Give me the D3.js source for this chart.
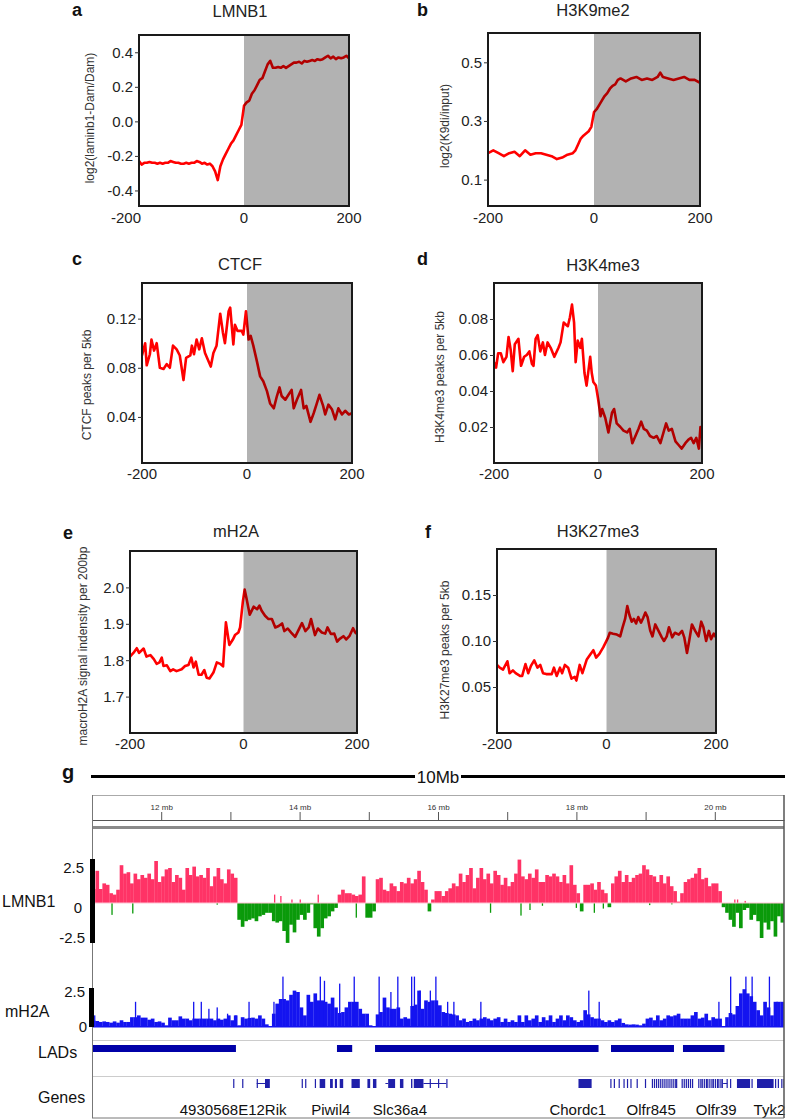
<!DOCTYPE html>
<html><head><meta charset="utf-8">
<script src="https://cdn.jsdelivr.net/npm/d3@7"></script>
<style>body{margin:0;background:#fff}svg{display:block;font-family:"Liberation Sans",Arial,sans-serif}</style>
</head><body>
<svg id="chart" width="787" height="1120"></svg>
<script>
// ---------------- DATA ----------------
const xTickLabels = [-200, 0, 200];

const lmnb1X = [-200,-195,-190,-185,-180,-175,-170,-165,-160,-155,-150,-145,-140,-135,-130,-125,-120,-115,-110,-105,-100,-95,-90,-85,-80,-75,-70,-65,-60,-55,-50,-45,-40,-35,-30,-25,-20,-15,-10,-5,0,5,10,15,20,25,30,35,40,45,50,55,60,65,70,75,80,85,90,95,100,105,110,115,120,125,130,135,140,145,150,155,160,165,170,175,180,185,190,195,200];
const lmnb1Y = [-0.23,-0.25,-0.24,-0.24,-0.235,-0.24,-0.24,-0.245,-0.24,-0.245,-0.24,-0.24,-0.23,-0.235,-0.24,-0.24,-0.245,-0.245,-0.24,-0.245,-0.24,-0.24,-0.23,-0.235,-0.245,-0.24,-0.25,-0.245,-0.26,-0.29,-0.34,-0.26,-0.22,-0.19,-0.16,-0.13,-0.11,-0.08,-0.05,-0.02,0.09,0.11,0.12,0.16,0.18,0.21,0.24,0.25,0.29,0.33,0.35,0.31,0.31,0.315,0.31,0.32,0.31,0.32,0.33,0.34,0.34,0.345,0.335,0.35,0.345,0.35,0.355,0.35,0.36,0.355,0.36,0.37,0.38,0.365,0.375,0.36,0.37,0.365,0.37,0.38,0.365];

const k9X = [-200,-190,-180,-170,-160,-150,-140,-130,-120,-110,-100,-90,-80,-70,-60,-50,-40,-35,-30,-25,-20,-10,-5,0,5,10,15,20,25,30,35,40,45,50,55,60,70,80,90,100,110,120,125,130,140,150,160,170,180,190,200];
const k9Y = [0.19,0.2,0.19,0.18,0.19,0.195,0.18,0.2,0.185,0.19,0.19,0.185,0.18,0.17,0.175,0.185,0.19,0.2,0.22,0.24,0.25,0.265,0.28,0.33,0.34,0.355,0.37,0.385,0.395,0.41,0.42,0.425,0.44,0.445,0.44,0.435,0.445,0.45,0.44,0.445,0.44,0.45,0.465,0.45,0.445,0.44,0.445,0.45,0.44,0.44,0.43];

const ctcfX = [-200,-194,-191,-185,-182,-177,-172,-166,-159,-153,-147,-141,-134,-128,-121,-116,-108,-105,-101,-96,-91,-86,-80,-69,-64,-58,-51,-46,-42,-35,-32,-26,-23,-18,-10,-7,-2,3,7,12,19,25,31,38,44,51,57,62,66,73,79,85,89,95,103,108,113,121,127,133,138,145,149,155,162,168,174,181,187,194,200];
const ctcfY = [0.09,0.10,0.082,0.091,0.103,0.094,0.10,0.08,0.079,0.083,0.08,0.098,0.095,0.09,0.07,0.088,0.09,0.098,0.091,0.103,0.095,0.104,0.092,0.081,0.092,0.098,0.124,0.109,0.10,0.126,0.129,0.099,0.115,0.11,0.11,0.107,0.126,0.103,0.106,0.098,0.085,0.073,0.069,0.061,0.051,0.047,0.057,0.064,0.057,0.054,0.058,0.062,0.047,0.054,0.062,0.047,0.049,0.036,0.043,0.051,0.058,0.049,0.042,0.05,0.046,0.038,0.047,0.042,0.045,0.042,0.043];

const k4X = [-200,-196,-192,-187,-182,-176,-172,-168,-164,-160,-153,-148,-142,-137,-132,-127,-124,-120,-116,-111,-106,-102,-97,-91,-84,-76,-72,-66,-62,-58,-54,-50,-46,-43,-39,-34,-31,-26,-22,-15,-12,-9,-4,0,5,8,14,20,27,31,36,43,49,56,61,66,72,78,83,88,94,100,107,113,120,126,131,136,142,149,155,161,168,174,179,184,189,194,197,200];
const k4Y = [0.056,0.053,0.061,0.061,0.056,0.059,0.07,0.063,0.051,0.066,0.069,0.054,0.059,0.06,0.062,0.055,0.054,0.069,0.071,0.062,0.067,0.06,0.067,0.064,0.059,0.064,0.067,0.078,0.077,0.076,0.081,0.088,0.078,0.056,0.068,0.064,0.069,0.05,0.043,0.059,0.05,0.045,0.043,0.036,0.026,0.03,0.025,0.017,0.028,0.03,0.022,0.02,0.018,0.017,0.019,0.011,0.015,0.019,0.023,0.019,0.018,0.015,0.014,0.015,0.011,0.017,0.022,0.018,0.019,0.012,0.01,0.008,0.011,0.013,0.014,0.011,0.014,0.008,0.02,0.018];

const mh2aX = [-200,-194,-188,-184,-176,-171,-164,-158,-153,-148,-144,-141,-135,-129,-124,-118,-109,-103,-97,-92,-88,-84,-79,-74,-69,-65,-60,-53,-47,-41,-36,-31,-25,-19,-15,-9,-6,-1,2,5,11,18,24,28,32,38,44,50,56,62,68,72,78,84,91,96,103,109,115,119,126,131,138,144,148,154,160,165,169,176,181,187,193,197,200];
const mh2aY = [1.81,1.82,1.833,1.82,1.832,1.81,1.814,1.803,1.79,1.794,1.807,1.784,1.786,1.77,1.775,1.77,1.775,1.784,1.787,1.807,1.78,1.796,1.76,1.76,1.773,1.752,1.75,1.766,1.794,1.79,1.783,1.904,1.842,1.856,1.869,1.876,1.89,1.963,1.994,1.972,1.925,1.947,1.94,1.95,1.936,1.922,1.913,1.913,1.89,1.894,1.901,1.88,1.887,1.876,1.864,1.88,1.902,1.88,1.89,1.913,1.869,1.887,1.876,1.873,1.89,1.872,1.873,1.851,1.858,1.866,1.857,1.867,1.888,1.876,1.872];

const k27X = [-200,-195,-189,-181,-177,-171,-166,-158,-154,-148,-143,-138,-132,-126,-121,-116,-110,-100,-96,-91,-85,-81,-76,-70,-64,-58,-55,-49,-44,-36,-30,-24,-19,-13,-6,-1,3,6,12,19,25,29,34,38,42,46,50,54,58,63,67,71,75,80,84,89,95,101,105,110,114,120,125,132,138,142,147,151,156,162,168,173,177,182,187,191,196,200];
const k27Y = [0.074,0.071,0.069,0.078,0.065,0.068,0.065,0.062,0.062,0.075,0.065,0.073,0.079,0.071,0.074,0.065,0.064,0.064,0.071,0.062,0.071,0.065,0.074,0.071,0.059,0.061,0.057,0.074,0.065,0.08,0.085,0.09,0.082,0.086,0.093,0.099,0.104,0.109,0.108,0.107,0.105,0.114,0.124,0.138,0.128,0.121,0.124,0.119,0.126,0.12,0.125,0.131,0.126,0.111,0.105,0.118,0.111,0.104,0.1,0.105,0.115,0.104,0.109,0.107,0.111,0.104,0.087,0.1,0.118,0.111,0.105,0.121,0.115,0.1,0.111,0.102,0.108,0.104];

// genome browser (chromosome position in Mb, 0.05 Mb bins starting at 11 Mb)
const trackStartMb = 11, trackEndMb = 21, binMb = 0.05;
const rulerTicksMb = [12,13,14,15,16,17,18,19,20];
const lmnb1Track = [1.0,2.3,1.0,1.4,1.3,0.7,0.6,0.95,2.7,2.1,
 2.2,1.4,2.1,1.7,2.0,1.8,2.1,1.7,3.0,1.5,
 1.9,2.4,2.5,1.5,2.0,1.8,0.95,2.5,2.0,2.6,
 1.9,2.0,1.8,2.5,1.2,1.9,2.5,1.7,1.4,2.4,
 2.1,1.8,-1.2,-1.7,-1.3,-1.2,-1.1,-1.3,-0.95,-0.85,
 -0.7,-0.7,-1.3,-1.4,-1.3,-2.0,-2.85,-1.55,-2.1,-1.2,
 -0.85,-1.2,-0.7,-0.1,-1.8,-2.4,-1.8,-1.1,-0.95,-0.6,
 -0.35,0.6,0.95,0.7,0.7,0.6,0.5,0.6,1.9,-1.05,
 -1.05,-0.6,1.7,1.8,0.95,0.85,1.4,1.2,0.85,1.5,
 1.4,1.8,1.4,1.7,2.3,1.5,0.95,-0.6,0.25,0.85,
 0.85,0.5,0.85,1.05,1.4,1.2,2.1,1.5,2.0,2.5,
 1.05,1.8,2.5,1.7,2.1,1.4,2.3,2.0,1.3,1.8,
 1.2,1.5,2.1,3.1,1.9,1.7,2.1,1.8,2.4,1.5,
 1.5,2.0,1.9,2.1,1.9,1.5,2.0,1.4,2.7,1.3,
 0.7,-0.6,1.3,1.3,1.4,0.95,1.5,0.95,0.7,-0.3,
 1.4,1.9,2.3,1.5,2.0,1.5,1.8,2.0,2.1,2.7,
 2.4,2.0,1.9,1.5,2.0,1.4,1.9,1.2,0.85,0.1,
 0.7,1.5,1.7,1.8,2.1,2.5,1.7,1.8,1.2,1.4,
 1.4,0.85,-0.3,-0.7,-1.2,-1.7,-0.7,-1.8,-0.5,-0.35,
 -1.2,-0.85,-1.3,-2.5,-1.4,-1.9,-1.3,-2.4,-0.95,-1.4];
const lmnb1SpikeMb = [11.28,11.58,12.80,14.81,16.75,17.19,17.32,17.50,17.99,18.25,18.38,19.05,19.37,13.63,13.72,13.88,14.00,14.26,20.28,20.32,20.43];
const lmnb1SpikeVal = [-0.85,-0.75,-0.12,-1.05,-0.7,-0.9,-0.5,-0.2,-0.35,-0.7,-0.4,-0.15,-0.1,0.6,0.5,0.25,0.25,0.6,0.25,0.25,0.15];

const mh2aTrack = [0.45,0.43,0.36,0.4,0.36,0.31,0.4,0.31,0.48,0.36,
 0.36,0.7,0.7,0.83,0.67,0.67,0.52,0.6,0.36,0.4,
 0.31,0.12,0.67,0.48,0.48,0.76,0.6,0.6,0.48,0.6,
 0.6,0.6,0.6,0.6,0.6,0.48,0.6,0.52,0.6,0.83,
 0.48,0.83,0.12,0.7,0.6,0.65,0.67,0.6,0.83,0.6,
 0.19,0.05,0.95,1.67,2.0,2.0,1.9,2.3,2.6,2.5,
 1.4,0.83,2.3,1.8,2.4,1.9,1.9,1.8,1.67,2.1,
 1.4,1.0,1.07,1.4,1.8,1.8,1.8,1.3,0.95,0.95,
 0.12,0.0,0.9,1.07,2.1,1.4,1.3,1.3,1.4,0.6,
 0.7,0.6,1.5,1.6,2.6,1.3,1.9,1.8,1.9,1.9,
 1.55,1.07,1.0,0.95,0.9,0.83,0.48,0.6,0.36,0.43,
 0.6,0.48,0.6,0.7,0.6,0.48,0.6,0.7,0.36,0.6,
 0.36,0.48,0.36,0.83,0.36,0.83,0.48,0.6,0.83,0.36,
 0.7,0.48,0.83,0.36,0.6,0.83,0.48,0.83,0.7,0.48,
 0.36,0.48,1.2,0.9,0.7,0.6,0.6,0.48,0.36,0.48,
 0.36,0.48,0.6,0.29,0.19,0.17,0.19,0.17,0.12,0.24,
 0.6,0.67,0.48,0.83,0.48,0.6,0.83,0.76,0.83,0.95,
 0.6,0.6,0.6,0.83,1.07,0.6,0.67,0.95,0.48,0.7,
 0.6,0.6,0.05,0.7,1.0,0.9,1.5,2.4,2.7,2.4,
 2.2,1.8,1.2,0.83,1.8,1.4,0.83,1.8,1.8,1.8];
const mh2aSpikeMb = [11.03,11.62,12.46,12.57,12.68,12.80,12.95,13.07,13.26,13.62,13.75,14.29,14.35,14.57,14.78,15.14,15.31,15.41,15.61,15.65,15.73,15.88,15.96,16.13,16.22,16.61,18.17,18.32,20.05,20.22,20.44,20.53,20.78,20.89];
const mh2aSpikeVal = [0.83,1.8,1.8,1.8,1.3,1.4,0.95,0.83,1.8,1.8,3.6,3.6,3.3,3.1,3.6,3.6,2.5,3.6,3.6,3.6,2.6,2.6,3.6,1.8,1.8,1.8,2.6,1.8,1.8,3.6,3.6,3.6,3.6,1.8];

const ladStartMb = [11.0,14.54,15.09,18.50,19.54];
const ladEndMb   = [13.08,14.76,18.32,19.41,20.14];

const geneStartMb = [13.04,13.17,13.38,13.50,14.03,14.08,14.22,14.29,14.44,14.51,14.58,14.75,14.98,15.06,15.28,15.45,15.61,15.65,15.88,16.00,16.12,18.03,18.49,18.54,18.61,18.68,18.73,18.78,18.87,18.99,19.09,19.12,19.15,19.18,19.21,19.24,19.27,19.30,19.33,19.36,19.39,19.42,19.44,19.52,19.55,19.58,19.61,19.64,19.67,19.76,19.79,19.81,19.84,19.87,19.89,19.92,19.95,19.97,20.00,20.03,20.05,20.08,20.10,20.17,20.22,20.32,20.53,20.61,20.87,20.91,20.96,20.99];
const geneEndMb   = [13.04,13.17,13.38,13.57,14.03,14.08,14.22,14.37,14.48,14.54,14.63,14.87,15.02,15.11,15.38,15.50,15.63,15.79,15.88,16.00,16.12,18.22,18.49,18.54,18.61,18.68,18.73,18.78,18.87,18.99,19.09,19.12,19.15,19.18,19.21,19.24,19.27,19.30,19.33,19.36,19.39,19.42,19.44,19.52,19.55,19.58,19.61,19.64,19.67,19.76,19.79,19.81,19.84,19.87,19.89,19.92,19.95,19.97,20.00,20.03,20.05,20.08,20.10,20.17,20.22,20.51,20.53,20.85,20.87,20.91,20.96,20.99];
const intronStartMb = [13.38,15.79,15.24,20.12];
const intronEndMb   = [13.50,16.12,15.28,20.18];
const geneNames = ["4930568E12Rik","Piwil4","Slc36a4","Chordc1","Olfr845","Olfr39","Tyk2"];
const geneLabelMb = [13.04,14.45,15.45,18.02,19.08,20.02,20.79];

// ---------------- DRAW ----------------
const svg = d3.select("#chart");
const fmtMinus = f => d => d3.format(f)(d).replace("\u2212", "-");

const panels = [
  {letter:"a", title:"LMNB1", ylab:"log2(laminb1-Dam/Dam)", xs:lmnb1X, ys:lmnb1Y, dom:[-0.49,0.5], ticks:[-0.4,-0.2,0,0.2,0.4], fmt:".1f",
   L:139,R:349,T:35,B:206, tx:240, ty:17, lx:72, ly:16, ylx:90, yly:118, xlb:223, firstDx:-13},
  {letter:"b", title:"H3K9me2", ylab:"log2(K9di/input)", xs:k9X, ys:k9Y, dom:[0.01,0.6], ticks:[0.1,0.3,0.5], fmt:".1f",
   L:488,R:700,T:33,B:206, tx:593, ty:16, lx:417, ly:16, ylx:445, yly:126, xlb:223, firstDx:0},
  {letter:"c", title:"CTCF", ylab:"CTCF peaks per 5kb", xs:ctcfX, ys:ctcfY, dom:[0.0025,0.149], ticks:[0.04,0.08,0.12], fmt:".2f",
   L:142,R:352,T:283,B:463, tx:240, ty:270, lx:72, ly:265, ylx:87, yly:385, xlb:479, firstDx:0},
  {letter:"d", title:"H3K4me3", ylab:"H3K4me3 peaks per 5kb", xs:k4X, ys:k4Y, dom:[0,0.1], ticks:[0.02,0.04,0.06,0.08], fmt:".2f",
   L:494,R:702,T:283,B:463, tx:603, ty:271, lx:417, ly:265, ylx:440, yly:377, xlb:479, firstDx:0},
  {letter:"e", title:"mH2A", ylab:"macroH2A signal indensity per 200bp", xs:mh2aX, ys:mh2aY, dom:[1.6,2.1], ticks:[1.7,1.8,1.9,2.0], fmt:".1f",
   L:130,R:357,T:551,B:733, tx:236, ty:537, lx:63, ly:539, ylx:83, yly:646, xlb:749, firstDx:0},
  {letter:"f", title:"H3K27me3", ylab:"H3K27me3 peaks per 5kb", xs:k27X, ys:k27Y, dom:[0,0.2], ticks:[0.05,0.10,0.15], fmt:".2f",
   L:497,R:716,T:549,B:733, tx:598, ty:537, lx:425, ly:538, ylx:445, yly:650, xlb:749, firstDx:0}
];

panels.forEach((p, idx) => {
  const x = d3.scaleLinear().domain([-200, 200]).range([p.L, p.R]);
  const y = d3.scaleLinear().domain(p.dom).range([p.B, p.T]);
  const g = svg.append("g");
  const cid = "clip" + idx;
  svg.append("clipPath").attr("id", cid).append("rect")
    .attr("x", p.L).attr("y", p.T).attr("width", p.R - p.L).attr("height", p.B - p.T);
  g.append("path").datum(d3.zip(p.xs, p.ys))
    .attr("d", d3.line().x(d => x(d[0])).y(d => y(d[1])))
    .attr("fill", "none").attr("stroke", "#ff0000").attr("stroke-width", 2.6)
    .attr("stroke-linejoin", "round").attr("clip-path", `url(#${cid})`);
  g.append("rect").attr("x", x(0)).attr("y", p.T).attr("width", x(200) - x(0)).attr("height", p.B - p.T)
    .attr("fill", "#000").attr("opacity", 0.3);
  g.append("rect").attr("x", p.L).attr("y", p.T).attr("width", p.R - p.L).attr("height", p.B - p.T)
    .attr("fill", "none").attr("stroke", "#1a1a1a").attr("stroke-width", 2);
  const ya = g.append("g").attr("transform", `translate(${p.L},0)`)
    .call(d3.axisLeft(y).tickValues(p.ticks).tickFormat(fmtMinus(p.fmt)).tickSize(4).tickPadding(2));
  ya.select(".domain").remove();
  ya.selectAll("line").attr("stroke", "#333");
  ya.selectAll("text").attr("font-size", 15).attr("fill", "#222").attr("font-family", "Liberation Sans, Arial");
  g.selectAll(".xl").data(xTickLabels).enter().append("text")
    .attr("x", (d, i) => x(d) + (i === 0 ? p.firstDx : 0)).attr("y", p.xlb)
    .attr("text-anchor", "middle").attr("font-size", 15).attr("fill", "#222").text(d => String(d));
  g.append("text").attr("x", p.tx).attr("y", p.ty).attr("text-anchor", "middle")
    .attr("font-size", 16.5).attr("fill", "#222").text(p.title);
  g.append("text").attr("x", p.lx).attr("y", p.ly).attr("font-size", 18).attr("font-weight", "bold")
    .attr("fill", "#111").text(p.letter);
  g.append("text").attr("transform", `translate(${p.ylx},${p.yly}) rotate(-90)`)
    .attr("text-anchor", "middle").attr("dominant-baseline", "central")
    .attr("font-size", 12).attr("fill", "#333").text(p.ylab);
});

// ---------------- PANEL g ----------------
const gx = d3.scaleLinear().domain([trackStartMb, trackEndMb]).range([92, 784]);
const G = svg.append("g");
G.append("text").attr("x", 62).attr("y", 779).attr("font-size", 20).attr("font-weight", "bold").attr("fill", "#111").text("g");
G.append("line").attr("x1", 91).attr("x2", 785).attr("y1", 776.5).attr("y2", 776.5).attr("stroke", "#000").attr("stroke-width", 3);
G.append("rect").attr("x", 415).attr("y", 768).attr("width", 46).attr("height", 17).attr("fill", "#fff");
G.append("text").attr("x", 438).attr("y", 783).attr("text-anchor", "middle").attr("font-size", 17).attr("fill", "#111").text("10Mb");

svg.append("clipPath").attr("id", "trackClip").append("rect").attr("x", 92).attr("y", 795).attr("width", 692).attr("height", 323);
const T = G.append("g").attr("clip-path", "url(#trackClip)");

G.append("line").attr("x1", 92).attr("x2", 784).attr("y1", 795.5).attr("y2", 795.5).attr("stroke", "#aaa").attr("stroke-width", 1);
const ruler = G.append("g").attr("transform", "translate(0,820)")
  .call(d3.axisTop(gx).tickValues(rulerTicksMb).tickSize(8).tickSizeOuter(0).tickPadding(2)
    .tickFormat(d => d % 2 === 0 ? d + " mb" : ""));
ruler.select(".domain").attr("stroke", "#555");
ruler.selectAll("line").attr("stroke", "#555");
ruler.selectAll("text").attr("font-size", 8).attr("fill", "#333");
G.append("rect").attr("x", 92).attr("y", 826).attr("width", 692).attr("height", 3).attr("fill", "#8a8a8a");

// LMNB1 track
const yL = d3.scaleLinear().domain([-3, 3]).range([945, 861]);
const binW = gx(trackStartMb + binMb) - gx(trackStartMb);
T.selectAll(".lb").data(lmnb1Track).enter().append("rect")
  .attr("x", (d, i) => gx(trackStartMb + i * binMb))
  .attr("width", binW + 0.2)
  .attr("y", d => d >= 0 ? yL(d) : yL(0))
  .attr("height", d => Math.abs(yL(d) - yL(0)))
  .attr("fill", d => d >= 0 ? "#ff3366" : "#0a9a0a");
T.selectAll(".ls").data(d3.zip(lmnb1SpikeMb, lmnb1SpikeVal)).enter().append("rect")
  .attr("x", d => gx(d[0])).attr("width", 1.3)
  .attr("y", d => d[1] >= 0 ? yL(d[1]) : yL(0))
  .attr("height", d => Math.abs(yL(d[1]) - yL(0)))
  .attr("fill", d => d[1] >= 0 ? "#ff3366" : "#0a9a0a");
T.append("line").attr("x1", 92).attr("x2", 784).attr("y1", yL(0)).attr("y2", yL(0)).attr("stroke", "#ffc2d2").attr("stroke-width", 1);

// mH2A track
const yM = d3.scaleLinear().domain([0, 3]).range([1027, 985]);
T.selectAll(".mb").data(mh2aTrack).enter().append("rect")
  .attr("x", (d, i) => gx(trackStartMb + i * binMb))
  .attr("width", binW + 0.2)
  .attr("y", d => yM(d)).attr("height", d => yM(0) - yM(d))
  .attr("fill", "#1414f0");
T.selectAll(".ms").data(d3.zip(mh2aSpikeMb, mh2aSpikeVal)).enter().append("rect")
  .attr("x", d => gx(d[0])).attr("width", 1.3)
  .attr("y", d => yM(d[1])).attr("height", d => yM(0) - yM(d[1]))
  .attr("fill", "#1414f0");
T.append("rect").attr("x", 92).attr("y", yM(0) - 1).attr("width", 692).attr("height", 1.5).attr("fill", "#1414f0");

G.append("line").attr("x1", 92).attr("x2", 784).attr("y1", 1040.5).attr("y2", 1040.5).attr("stroke", "#ccc");
G.append("line").attr("x1", 92).attr("x2", 784).attr("y1", 1076.5).attr("y2", 1076.5).attr("stroke", "#ccc");

// LADs
T.selectAll(".lad").data(d3.zip(ladStartMb, ladEndMb)).enter().append("rect")
  .attr("x", d => gx(d[0])).attr("width", d => gx(d[1]) - gx(d[0]))
  .attr("y", 1045).attr("height", 7).attr("fill", "#0000a8");

// Genes
T.selectAll(".intr").data(d3.zip(intronStartMb, intronEndMb)).enter().append("rect")
  .attr("x", d => gx(d[0])).attr("width", d => gx(d[1]) - gx(d[0]))
  .attr("y", 1083).attr("height", 1).attr("fill", "#2222aa");
T.selectAll(".gene").data(d3.zip(geneStartMb, geneEndMb)).enter().append("rect")
  .attr("x", d => gx(d[0])).attr("width", d => Math.max(1.2, gx(d[1]) - gx(d[0])))
  .attr("y", 1079).attr("height", 9).attr("fill", "#2020aa");
G.selectAll(".gname").data(d3.zip(geneNames, geneLabelMb)).enter().append("text")
  .attr("x", d => gx(d[1])).attr("y", 1115).attr("text-anchor", "middle")
  .attr("font-size", 15).attr("fill", "#111").text(d => d[0]);

G.append("line").attr("x1", 92.5).attr("x2", 92.5).attr("y1", 795).attr("y2", 1118).attr("stroke", "#777");
G.append("line").attr("x1", 784).attr("x2", 784).attr("y1", 795).attr("y2", 1118).attr("stroke", "#555").attr("stroke-width", 1.5);
G.append("line").attr("x1", 92).attr("x2", 784).attr("y1", 1118).attr("y2", 1118).attr("stroke", "#777");

G.append("rect").attr("x", 90).attr("y", 859).attr("width", 5).attr("height", 84).attr("fill", "#000");
G.append("rect").attr("x", 89).attr("y", 988).attr("width", 5).attr("height", 39).attr("fill", "#000");

const lab = (x, y, t, anchor, size) => G.append("text").attr("x", x).attr("y", y).attr("text-anchor", anchor)
  .attr("font-size", size).attr("fill", "#111").text(t);
lab(2, 907, "LMNB1", "start", 16);
lab(84, 873, "2.5", "end", 15);
lab(82, 913, "0", "end", 15);
lab(85, 943, "-2.5", "end", 15);
lab(5, 1017, "mH2A", "start", 16);
lab(85, 997, "2.5", "end", 15);
lab(87, 1032, "0", "end", 15);
lab(38, 1058, "LADs", "start", 16);
lab(38, 1103, "Genes", "start", 16);
</script>
</body></html>
